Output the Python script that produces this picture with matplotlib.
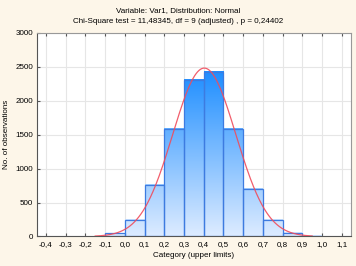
import numpy as np
import matplotlib
matplotlib.use("Agg")
import matplotlib.pyplot as plt
from matplotlib.colors import LinearSegmentedColormap
from matplotlib.ticker import FuncFormatter

plt.rcParams['font.family'] = ['Liberation Sans', 'DejaVu Sans']

# Data: bin upper limits and observed counts (bin width 0.1)
upper_limits = [0.0, 0.1, 0.2, 0.3, 0.4, 0.5, 0.6, 0.7, 0.8, 0.9, 1.0]
counts = [44, 250, 758, 1580, 2310, 2426, 1580, 706, 243, 50, 10]
bin_width = 0.1

# Fitted normal parameters
fit_mean = 0.403
fit_sd = 0.160
n_total = sum(counts)
curve_range = (-0.15, 0.95)

x_ticks = [-0.4, -0.3, -0.2, -0.1, 0.0, 0.1, 0.2, 0.3, 0.4, 0.5, 0.6, 0.7, 0.8, 0.9, 1.0, 1.1]
y_ticks = [0, 500, 1000, 1500, 2000, 2500, 3000]

title1 = "Variable: Var1, Distribution: Normal"
title2 = "Chi-Square test = 11,48345, df = 9 (adjusted) , p = 0,24402"

bg = "#FDF6E9"
fig = plt.figure(figsize=(3.56, 2.66), dpi=100, facecolor=bg)
ax = fig.add_axes([0.104, 0.111, 0.882, 0.765])
ax.set_facecolor("white")

ax.set_xlim(-0.445, 1.147)
ax.set_ylim(0, 3000)

cmap = LinearSegmentedColormap.from_list("g", ["#DCEBFF", "#1A8CFF"])
gmax = 2500.0
for ul, c in zip(upper_limits, counts):
    x0, x1 = ul - bin_width, ul
    grad = np.linspace(0, c / gmax, 64).reshape(-1, 1)
    ax.imshow(grad, extent=(x0, x1, 0, c), origin="lower", aspect="auto",
              cmap=cmap, vmin=0, vmax=1, zorder=2, interpolation="bilinear")
    ax.add_patch(plt.Rectangle((x0, 0), bin_width, c, fill=False,
                               edgecolor="#3D7BE0", linewidth=0.9, zorder=3))

xs = np.linspace(curve_range[0], curve_range[1], 300)
ys = n_total * bin_width / (fit_sd * np.sqrt(2 * np.pi)) * np.exp(-0.5 * ((xs - fit_mean) / fit_sd) ** 2)
ax.plot(xs, ys, color="#F04C5C", linewidth=0.9, alpha=0.9, zorder=4)

ax.set_xlim(-0.445, 1.147)
ax.set_ylim(0, 3000)
ax.set_xticks(x_ticks)
ax.set_yticks(y_ticks)
ax.xaxis.set_major_formatter(FuncFormatter(lambda v, p: ("%.1f" % v).replace(".", ",").replace("-0,0", "0,0")))
ax.grid(True, color="#E6E6E6", linewidth=0.8, zorder=0)
ax.set_axisbelow(True)
ax.tick_params(axis="both", labelsize=5.8, length=2, direction="in", color="#555555", pad=3, top=True, right=False)
for s in ["left", "bottom"]:
    ax.spines[s].set_color("#555555")
for s in ["top", "right"]:
    ax.spines[s].set_color("#999999")

ax.set_xlabel("Category (upper limits)", fontsize=5.8, labelpad=3)
ax.set_ylabel("No. of observations", fontsize=5.8, labelpad=4)
fig.text(0.5, 0.962, title1, ha="center", va="center", fontsize=5.8)
fig.text(0.5, 0.918, title2, ha="center", va="center", fontsize=5.8)

fig.savefig("out.png", dpi=100, facecolor=bg)
